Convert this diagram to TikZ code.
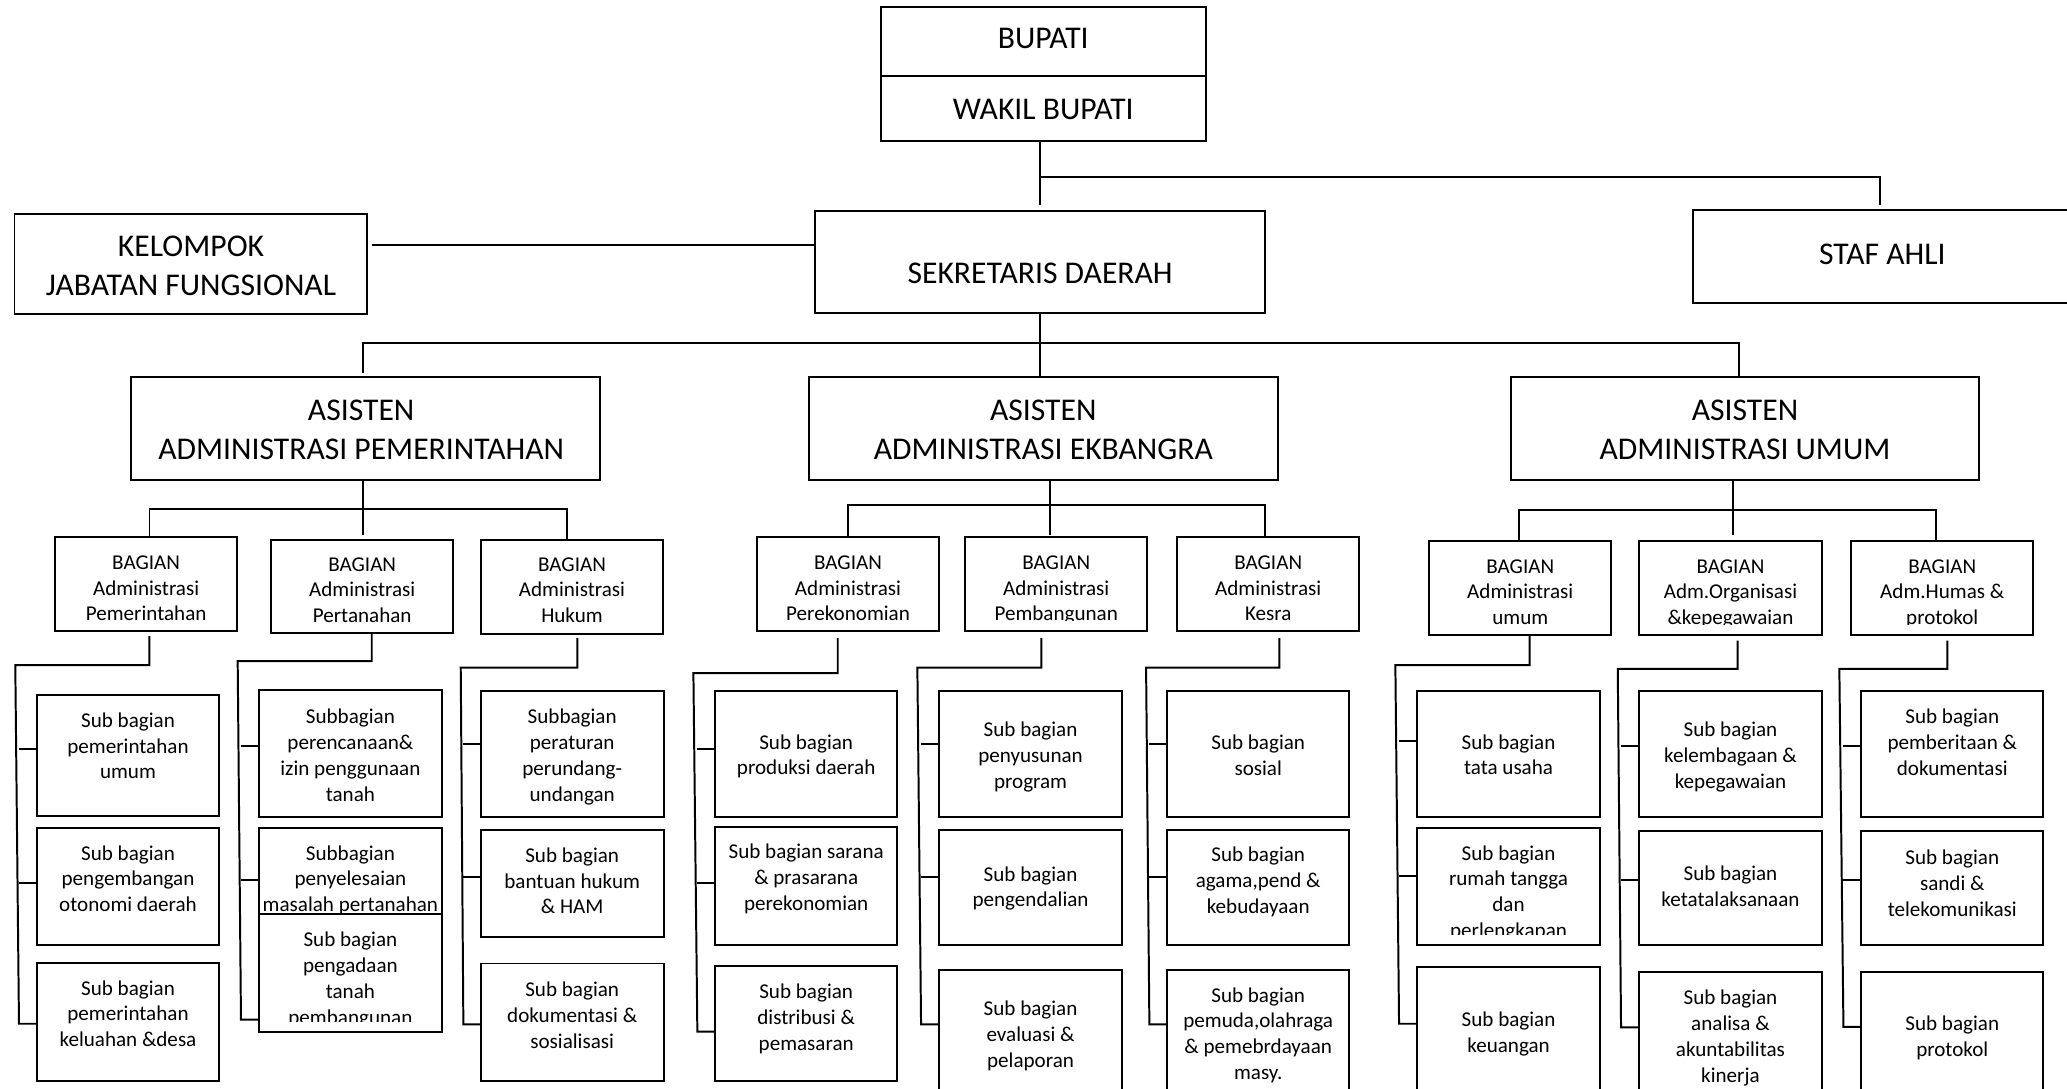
\documentclass[tikz,border=0pt]{standalone}
\usepackage{fontspec}
\setmainfont{Carlito}
\tikzset{
  ln/.style={line width=1.5pt},
  boxst/.style={draw, line width=1.5pt, fill=white, inner sep=0pt, outer sep=0pt, rectangle},
  smalltxt/.style={font=\fontsize{16}{19.6}\selectfont, inner sep=0pt, outer sep=0pt, align=center},
  bigtxt/.style={font=\fontsize{24}{29.5}\selectfont, inner sep=0pt, outer sep=0pt, align=center}
}
% box: name, x1, y1, x2, y2 (y measured downward)
\newcommand\mkbox[5]{\node[boxst, minimum width={(#4)-(#2)}, minimum height={(#5)-(#3)}] (#1) at ({((#2)+(#4))/2},{-((#3)+(#5))/2}) {};}
% box with small text: name, x1, y1, x2, y2, first-line centre, text
\newcommand\orgbox[7]{%
  \mkbox{#1}{#2}{#3}{#4}{#5}
  \begin{scope}
    \clip (#2,{-((#5)-8)}) rectangle (#4,-#3);
    \node[smalltxt, anchor=north] (#1t) at ({((#2)+(#4))/2},{-((#6)-5.3)}) {#7};
  \end{scope}}
% branch: prefix, xv, ystart, yh, xl top, xl bottom, tick1, tick2, tick3
\newcommand\mkbranch[9]{%
  \coordinate (#1v0) at (#2,-#3);
  \coordinate (#1v1) at (#2,-#4);
  \coordinate (#1h) at (#5,-#4);
  \coordinate (#1e) at (#6,-#9);
  \draw[ln] (#1v0) -- (#1v1) -- (#1h) -- (#1e) -- (#1e -| #1c.west);
  \coordinate (#1k1) at (#6,-#7);
  \coordinate (#1k2) at (#6,-#8);
  \draw[ln] (#1k1) -- (#1k1 -| #1a.west);
  \draw[ln] (#1k2) -- (#1k2 -| #1b.west);}
\begin{document}
\begin{tikzpicture}[x=1pt,y=1pt]
\useasboundingbox (0,0) rectangle (1568,-826.1);

% ---------- top level ----------
\mkbox{bupati}{668.2}{5.3}{914.6}{57.5}
\mkbox{wakil}{668.2}{57.5}{914.6}{106.8}
\node[bigtxt, anchor=base] (bupatit) at (791.4,-36.9) {BUPATI};
\node[bigtxt, anchor=base] (wakilt) at (791.4,-91) {WAKIL BUPATI};

\mkbox{kel}{11}{162.2}{278.4}{238.1}
\node[bigtxt, anchor=north] (kelt) at (144.9,-178.8) {KELOMPOK\\JABATAN FUNGSIONAL};

\mkbox{sek}{618.2}{160.1}{959.6}{237.8}
\node[bigtxt, anchor=base] (sekt) at (789,-214.9) {SEKRETARIS DAERAH};

\mkbox{staf}{1283.9}{159}{1572}{230.2}
\node[bigtxt, anchor=base] (staft) at (1427.9,-200.9) {STAF AHLI};

\mkbox{pem}{99.5}{286.1}{454.8}{363.9}
\node[bigtxt, anchor=north] (pemt) at (274,-303.2) {ASISTEN\\ADMINISTRASI PEMERINTAHAN};
\mkbox{ekb}{613.7}{286.1}{969.1}{363.9}
\node[bigtxt, anchor=north] (ekbt) at (791.4,-303.2) {ASISTEN\\ADMINISTRASI EKBANGRA};
\mkbox{umm}{1146}{286.1}{1501.3}{363.9}
\node[bigtxt, anchor=north] (ummt) at (1323.7,-303.2) {ASISTEN\\ADMINISTRASI UMUM};

% ---------- bagian ----------
\orgbox{bpem}{41.7}{407.7}{180.0}{479.0}{426.7}{BAGIAN\\Administrasi\\Pemerintahan}
\orgbox{bper}{205.6}{409.4}{343.9}{480.4}{428.1}{BAGIAN\\Administrasi\\Pertanahan}
\orgbox{bhuk}{364.6}{409.4}{503.2}{480.6}{428.1}{BAGIAN\\Administrasi\\Hukum}
\orgbox{bpek}{574.3}{407.7}{712.3}{479.0}{426.7}{BAGIAN\\Administrasi\\Perekonomian}
\orgbox{bpmb}{732.1}{407.7}{870.4}{479.0}{426.7}{BAGIAN\\Administrasi\\Pembangunan}
\orgbox{bkes}{892.9}{407.7}{1031.2}{479.0}{426.7}{BAGIAN\\Administrasi\\Kesra}
\orgbox{bumu}{1084.1}{410.7}{1222.4}{482.0}{429.7}{BAGIAN\\Administrasi\\umum}
\orgbox{borg}{1243.4}{410.7}{1382.0}{482.0}{429.7}{BAGIAN\\Adm.Organisasi\\\&kepegawaian}
\orgbox{bhum}{1404.2}{410.7}{1542.5}{482.0}{429.7}{BAGIAN\\Adm.Humas \&\\protokol}

% ---------- sub bagian ----------
\orgbox{bpema}{27.8}{526.9}{166.4}{619.1}{545.9}{Sub bagian\\pemerintahan\\umum}
\orgbox{bpemb}{27.8}{627.9}{166.4}{717.1}{646.6}{Sub bagian\\pengembangan\\otonomi daerah}
\orgbox{bpemc}{27.8}{730.3}{166.4}{819.8}{749.0}{Sub bagian\\pemerintahan\\keluahan \&desa}

\orgbox{bpera}{196.5}{523.6}{335.1}{619.4}{543.1}{Subbagian\\perencanaan\&\\izin penggunaan\\tanah}
\orgbox{bperb}{196.5}{627.9}{335.1}{717.1}{646.6}{Subbagian\\penyelesaian\\masalah pertanahan}
\orgbox{bperc}{196.5}{693.1}{335.1}{782.6}{712.4}{Sub bagian\\pengadaan\\tanah\\pembangunan}

\orgbox{bhuka}{364.6}{523.9}{503.5}{619.4}{543.1}{Subbagian\\peraturan\\perundang-\\undangan}
\orgbox{bhukb}{364.6}{629.8}{503.5}{711.1}{648.3}{Sub bagian\\bantuan hukum\\\& HAM}
\orgbox{bhukc}{364.6}{730.9}{503.5}{820.3}{750.1}{Sub bagian\\dokumentasi \&\\sosialisasi}

\orgbox{bpeka}{542.4}{523.9}{680.7}{619.4}{562.4}{Sub bagian\\produksi daerah}
\orgbox{bpekb}{542.4}{627.1}{680.7}{716.5}{645.8}{Sub bagian sarana\\\& prasarana\\perekonomian}
\orgbox{bpekc}{542.4}{732.5}{680.7}{820.3}{751.5}{Sub bagian\\distribusi \&\\pemasaran}

\orgbox{bpmba}{712.6}{523.9}{850.9}{619.4}{553.0}{Sub bagian\\penyusunan\\program}
\orgbox{bpmbb}{712.6}{629.8}{850.9}{717.1}{662.6}{Sub bagian\\pengendalian}
\orgbox{bpmbc}{712.6}{735.8}{850.9}{840}{764.7}{Sub bagian\\evaluasi \&\\pelaporan}

\orgbox{bkesa}{885.3}{523.9}{1023.6}{619.4}{562.7}{Sub bagian\\sosial}
\orgbox{bkesb}{885.3}{629.8}{1023.6}{717.1}{648.0}{Sub bagian\\agama,pend \&\\kebudayaan}
\orgbox{bkesc}{885.3}{735.8}{1023.6}{840}{754.3}{Sub bagian\\pemuda,olahraga\\\& pemebrdayaan\\masy.}

\orgbox{bumua}{1075.2}{523.9}{1213.5}{619.4}{562.4}{Sub bagian\\tata usaha}
\orgbox{bumub}{1075.2}{627.9}{1213.5}{717.1}{646.6}{Sub bagian\\rumah tangga\\dan\\perlengkapan}
\orgbox{bumuc}{1075.2}{733.9}{1213.5}{840}{773.0}{Sub bagian\\keuangan}

\orgbox{borga}{1243.4}{523.9}{1382.0}{619.4}{553.0}{Sub bagian\\kelembagaan \&\\kepegawaian}
\orgbox{borgb}{1243.4}{630.7}{1382.0}{717.1}{662.0}{Sub bagian\\ketatalaksanaan}
\orgbox{borgc}{1243.4}{737.2}{1382.0}{840}{756.5}{Sub bagian\\analisa \&\\akuntabilitas\\kinerja}

\orgbox{bhuma}{1411.8}{523.9}{1550.1}{619.4}{543.1}{Sub bagian\\pemberitaan \&\\dokumentasi}
\orgbox{bhumb}{1411.8}{630.7}{1550.1}{717.1}{650.0}{Sub bagian\\sandi \&\\telekomunikasi}
\orgbox{bhumc}{1411.8}{737.2}{1550.1}{840}{775.7}{Sub bagian\\protokol}

% ---------- connectors ----------
\coordinate (j1) at (788.7,-134.5);
\coordinate (j1e) at (788.7,-155.6);
\coordinate (j2) at (1426.3,-134.5);
\coordinate (j2e) at (1426.3,-155.6);
\draw[ln] (wakil.south -| j1) -- (j1e);
\draw[ln] (j1) -- (j2) -- (j2e);

\coordinate (k1) at (282.4,-186.2);
\draw[ln] (k1) -- (k1 -| sek.west);

\coordinate (s1) at (788.7,-260.5);
\draw[ln] (sek.south -| s1) -- (ekb.north -| s1);
\coordinate (s2) at (275.4,-260.5);
\coordinate (s2e) at (275.4,-283);
\coordinate (s3) at (1318.9,-260.5);
\draw[ln] (s2e) -- (s2) -- (s3) -- (umm.north -| s3);

\coordinate (a1) at (275.4,-406.1);
\draw[ln] (pem.south -| a1) -- (a1);
\coordinate (a2) at (113.4,-386.3);
\coordinate (a3) at (430.3,-386.3);
\draw[ln] (bpem.north -| a2) -- (a2) -- (a3) -- (bhuk.north -| a3);

\coordinate (e1) at (796.2,-406.1);
\draw[ln] (ekb.south -| e1) -- (e1);
\coordinate (e2) at (643.2,-382.9);
\coordinate (e3) at (959.6,-382.9);
\draw[ln] (bpek.north -| e2) -- (e2) -- (e3) -- (bkes.north -| e3);

\coordinate (u1) at (1314.9,-406.1);
\draw[ln] (umm.south -| u1) -- (u1);
\coordinate (u2) at (1152.5,-386.8);
\coordinate (u3) at (1468.8,-386.8);
\draw[ln] (bumu.north -| u2) -- (u2) -- (u3) -- (bhum.north -| u3);

\mkbranch{bpem}{113.3}{482.6}{504.6}{11.6}{14.4}{568.5}{669.8}{776.6}
\mkbranch{bper}{282.0}{480.4}{501.6}{180.3}{182.8}{565.7}{667.3}{773.5}
\mkbranch{bhuk}{438.0}{484.0}{506.5}{349.5}{351.5}{564.3}{665.6}{777.1}
\mkbranch{bpek}{635.5}{484.0}{510.7}{526.0}{529.0}{568.5}{669.8}{782.6}
\mkbranch{bpmb}{790.0}{484.0}{506.5}{695.9}{698.7}{564.3}{665.6}{777.1}
\mkbranch{bkes}{970.5}{484.0}{506.5}{869.4}{871.9}{564.3}{665.6}{777.1}
\mkbranch{bumu}{1160.4}{482.6}{504.6}{1058.5}{1061.3}{562.1}{664.2}{776.6}
\mkbranch{borg}{1318.2}{485.9}{507.4}{1227.2}{1229.7}{565.7}{667.3}{779.3}
\mkbranch{bhum}{1477.3}{485.9}{507.4}{1395.3}{1398.4}{565.7}{667.3}{779.0}
\end{tikzpicture}
\end{document}
